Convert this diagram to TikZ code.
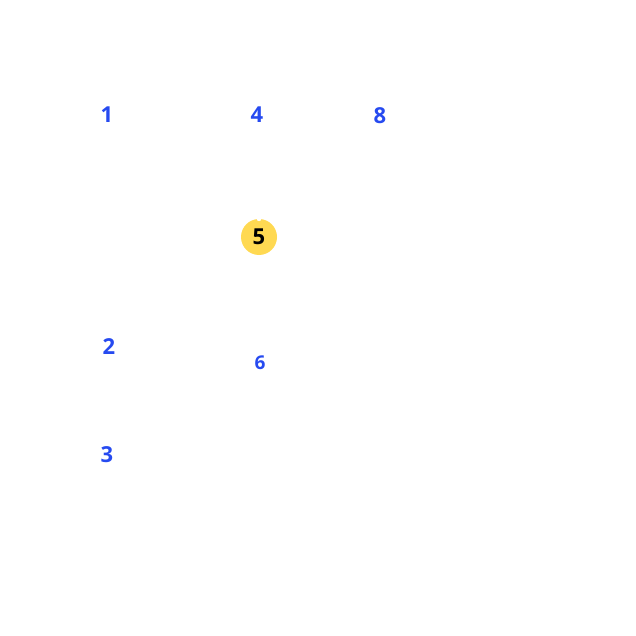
\documentclass[tikz,border=0pt]{standalone}
\usepackage{fontspec}
\setmainfont{Open Sans}
\definecolor{numblue}{RGB}{38,74,240}
\definecolor{marker}{RGB}{255,217,82}

\begin{document}
\begin{tikzpicture}[x=0.5pt,y=-0.5pt,
    num/.style={text=numblue,font=\fontsize{11}{13}\selectfont\bfseries,inner sep=0pt},
    small/.style={text=numblue,font=\fontsize{9.5}{11}\selectfont\bfseries,inner sep=0pt}]
  \useasboundingbox (0,0) rectangle (636,636);
  % numbered markers
  \node[num] (n1) at (107,115) {1};
  \node[num] (n4) at (257,115) {4};
  \node[num] (n8) at (380,116) {8};
  \node[num] (n2) at (109,347) {2};
  \node[small] (n6) at (260,363) {6};
  \node[num] (n3) at (107,455) {3};
  % highlighted one
  \fill[marker] (259,237) circle (18);
  \fill[white] (259,219) circle (2.2);
  \node[num,text=black] (n5) at (259,237) {5};
\end{tikzpicture}
\end{document}
